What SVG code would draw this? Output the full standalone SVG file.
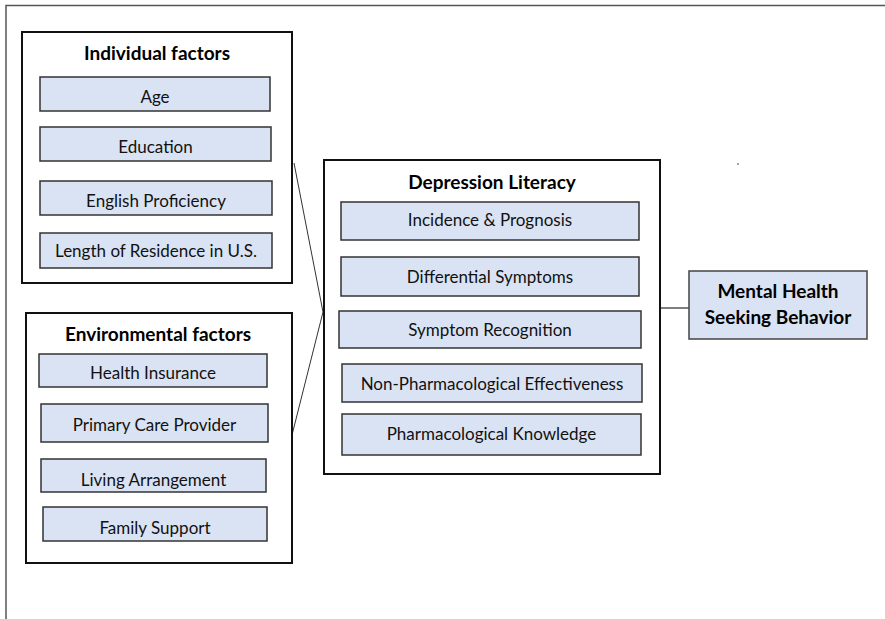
<svg xmlns="http://www.w3.org/2000/svg" width="885" height="619" viewBox="0 0 885 619">
<style>
.frame{fill:none;stroke:#555;stroke-width:1.5}
.group{fill:#fff;stroke:#111;stroke-width:2}
.item{fill:#dae3f3;stroke:#333;stroke-width:1.5}
.t{font-family:Lato,"Open Sans",sans-serif;font-size:17px;fill:#111;text-anchor:middle}
.h{font-family:Lato,"Open Sans",sans-serif;font-size:19px;font-weight:bold;fill:#000;text-anchor:middle}
.conn{fill:none;stroke:#333;stroke-width:1}
</style>
<rect width="885" height="619" fill="#fff"/>
<path class="frame" d="M6,619 V5.5 H885"/>
<g id="connectors">
<polyline class="conn" points="294,163 323,312 292,435"/>
<line class="conn" x1="660" y1="308" x2="689" y2="308" style="stroke-width:1.5;stroke:#555"/>
</g>
<circle cx="738" cy="164" r="0.8" fill="#333"/>
<g id="individual">
<rect class="group" x="22" y="32" width="270" height="251"/>
<text class="h" x="157" y="60">Individual factors</text>
<g id="age"><rect class="item" x="40" y="77" width="230" height="34"/><text class="t" x="155" y="103">Age</text></g>
<g id="education"><rect class="item" x="40" y="127" width="231" height="34"/><text class="t" x="155.5" y="153">Education</text></g>
<g id="english"><rect class="item" x="40" y="181" width="232" height="34"/><text class="t" x="156" y="207">English Proficiency</text></g>
<g id="residence"><rect class="item" x="40" y="233" width="232" height="35"/><text class="t" x="156" y="257">Length of Residence in U.S.</text></g>
</g>
<g id="environmental">
<rect class="group" x="26" y="313" width="266" height="250"/>
<text class="h" x="158" y="341">Environmental factors</text>
<g id="insurance"><rect class="item" x="39" y="354" width="228" height="33"/><text class="t" x="153" y="379">Health Insurance</text></g>
<g id="pcp"><rect class="item" x="41" y="404" width="227" height="38"/><text class="t" x="154.5" y="431">Primary Care Provider</text></g>
<g id="living"><rect class="item" x="41" y="459" width="225" height="33"/><text class="t" x="153.5" y="486">Living Arrangement</text></g>
<g id="family"><rect class="item" x="43" y="507" width="224" height="34"/><text class="t" x="155" y="534">Family Support</text></g>
</g>
<g id="literacy">
<rect class="group" x="324" y="160" width="336" height="314"/>
<text class="h" x="492" y="189">Depression Literacy</text>
<g id="incidence"><rect class="item" x="341" y="202" width="298" height="38"/><text class="t" x="490" y="226">Incidence &amp; Prognosis</text></g>
<g id="differential"><rect class="item" x="341" y="257" width="298" height="39"/><text class="t" x="490" y="283">Differential Symptoms</text></g>
<g id="recognition"><rect class="item" x="339" y="311" width="302" height="37"/><text class="t" x="490" y="336">Symptom Recognition</text></g>
<g id="nonpharm"><rect class="item" x="342" y="364" width="300" height="38"/><text class="t" x="492" y="390">Non-Pharmacological Effectiveness</text></g>
<g id="pharm"><rect class="item" x="342" y="414" width="299" height="41"/><text class="t" x="491.5" y="440">Pharmacological Knowledge</text></g>
</g>
<g id="mhsb">
<rect class="item" x="689" y="271" width="178" height="68" style="stroke:#444"/>
<text class="h" x="778" y="298">Mental Health</text>
<text class="h" x="778" y="324">Seeking Behavior</text>
</g>
</svg>
